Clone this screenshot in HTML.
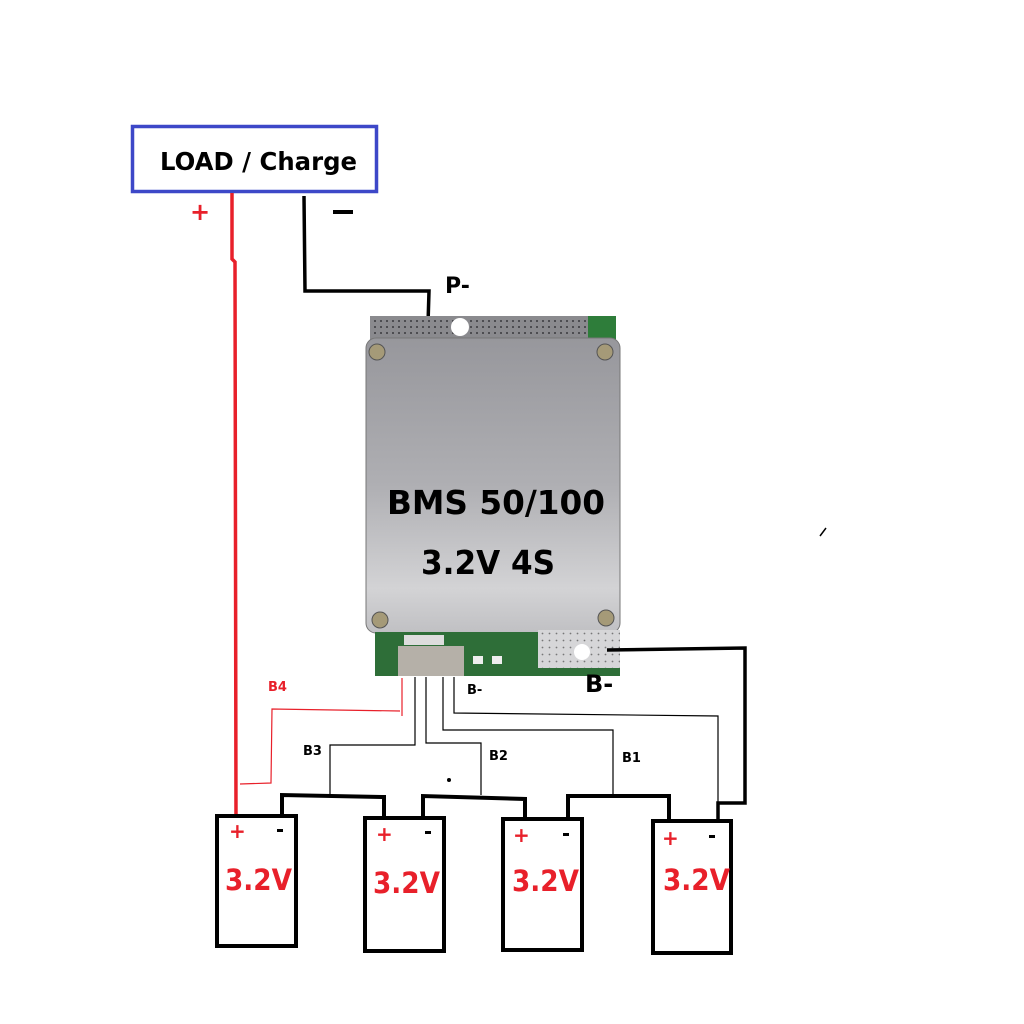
<!DOCTYPE html>
<html><head><meta charset="utf-8"><style>
html,body{margin:0;padding:0;background:#fff;}
svg{display:block;}
text{font-family:"DejaVu Sans","Liberation Sans",sans-serif;font-weight:bold;}
</style></head><body>
<svg width="1024" height="1024" viewBox="0 0 1024 1024" xmlns="http://www.w3.org/2000/svg">
<defs>
<linearGradient id="plate" x1="0" y1="0" x2="0" y2="1">
<stop offset="0" stop-color="#97979c"/>
<stop offset="0.5" stop-color="#afafb3"/>
<stop offset="0.85" stop-color="#d3d3d5"/>
<stop offset="1" stop-color="#c0c0c3"/>
</linearGradient>
<pattern id="dots" width="6" height="6" patternUnits="userSpaceOnUse">
<rect width="6" height="6" fill="#8a8a8e"/><circle cx="3" cy="3" r="1" fill="#3a3a3e"/>
</pattern>
<pattern id="dots2" width="7" height="7" patternUnits="userSpaceOnUse">
<rect width="7" height="7" fill="#d6d6d8"/><circle cx="3.5" cy="3.5" r="0.9" fill="#777"/>
</pattern>
</defs>
<rect width="1024" height="1024" fill="#fff"/>

<rect x="132.5" y="126.5" width="244" height="65" fill="#fff" stroke="#3d48c8" stroke-width="3.5"/>
<text x="160" y="170" font-size="25" fill="#000" textLength="197" lengthAdjust="spacingAndGlyphs">LOAD / Charge</text>
<text x="190" y="220" font-size="24" fill="#e8202a" font-weight="normal">+</text>
<rect x="333" y="210" width="20" height="4" fill="#000"/>

<polyline points="232,193 232,259 235,262 236,820" fill="none" stroke="#e8202a" stroke-width="3.5"/>
<polyline points="304,196 305,291 429,291 428,324" fill="none" stroke="#000" stroke-width="3.5"/>
<text x="445" y="293" font-size="22" fill="#000">P-</text>

<rect x="370" y="316" width="246" height="24" fill="url(#dots)"/>
<rect x="588" y="316" width="28" height="24" fill="#2e7d3a"/>
<circle cx="460" cy="327" r="9" fill="#fff"/>
<rect x="366" y="338" width="254" height="295" rx="10" fill="url(#plate)" stroke="#777" stroke-width="1"/>
<circle cx="377" cy="352" r="8" fill="#a59a78" stroke="#555"/>
<circle cx="605" cy="352" r="8" fill="#a59a78" stroke="#555"/>
<circle cx="380" cy="620" r="8" fill="#a59a78" stroke="#555"/>
<circle cx="606" cy="618" r="8" fill="#a59a78" stroke="#555"/>
<text x="387" y="514" font-size="33" fill="#000" textLength="218" lengthAdjust="spacingAndGlyphs">BMS 50/100</text>
<text x="421" y="574" font-size="33" fill="#000" textLength="134" lengthAdjust="spacingAndGlyphs">3.2V 4S</text>

<rect x="375" y="632" width="245" height="44" fill="#2e6e38"/>
<rect x="538" y="630" width="82" height="38" fill="url(#dots2)"/>
<circle cx="582" cy="652" r="8" fill="#fff"/>
<rect x="398" y="646" width="66" height="30" fill="#b5b0a8"/>
<rect x="404" y="635" width="40" height="10" fill="#ddd"/>
<rect x="473" y="656" width="10" height="8" fill="#eee"/>
<rect x="492" y="656" width="10" height="8" fill="#eee"/>

<polyline points="607,650 745,648 745,803 718,803 718,822" fill="none" stroke="#000" stroke-width="3.5"/>
<text x="585" y="692" font-size="24" fill="#000">B-</text>

<polyline points="402,678 402,716" fill="none" stroke="#e8202a" stroke-width="1.2"/>
<polyline points="400,711 272,709 271,783 240,784" fill="none" stroke="#e8202a" stroke-width="1.2"/>
<polyline points="415,677 415,745 330,745 330,795" fill="none" stroke="#000" stroke-width="1.2"/>
<polyline points="426,677 426,743 481,743 481,795" fill="none" stroke="#000" stroke-width="1.2"/>
<polyline points="443,677 443,730 613,730 613,795" fill="none" stroke="#000" stroke-width="1.2"/>
<polyline points="454,677 454,713 718,716 718,803" fill="none" stroke="#000" stroke-width="1.2"/>
<circle cx="449" cy="780" r="2" fill="#000"/>
<text x="467" y="694" font-size="13" fill="#000">B-</text>
<text x="268" y="691" font-size="13" fill="#e8202a">B4</text>
<text x="303" y="755" font-size="13" fill="#000">B3</text>
<text x="489" y="760" font-size="13" fill="#000">B2</text>
<text x="622" y="762" font-size="13" fill="#000">B1</text>

<g fill="none" stroke="#000" stroke-width="4">
<polyline points="282,816 282,795 384,797 384,818"/>
<polyline points="423,818 423,796 525,799 525,820"/>
<polyline points="568,820 568,796 669,796 669,822"/>
</g>
<line x1="820" y1="536" x2="826" y2="528" stroke="#000" stroke-width="1.5"/>

<g fill="#fff" stroke="#000" stroke-width="4">
<rect x="217" y="816" width="79" height="130"/>
<rect x="365" y="818" width="79" height="133"/>
<rect x="503" y="819" width="79" height="131"/>
<rect x="653" y="821" width="78" height="132"/>
</g>
<g font-size="20" fill="#e8202a" font-weight="normal">
<text x="229" y="838">+</text><text x="376" y="841">+</text><text x="513" y="842">+</text><text x="662" y="845">+</text>
</g>
<g fill="#000">
<rect x="277" y="829" width="6" height="3"/><rect x="425" y="831" width="6" height="3"/>
<rect x="563" y="833" width="6" height="3"/><rect x="709" y="835" width="6" height="3"/>
</g>
<g font-size="29" fill="#e8202a">
<text x="225" y="890" textLength="67" lengthAdjust="spacingAndGlyphs">3.2V</text>
<text x="373" y="893" textLength="67" lengthAdjust="spacingAndGlyphs">3.2V</text>
<text x="512" y="891" textLength="67" lengthAdjust="spacingAndGlyphs">3.2V</text>
<text x="663" y="890" textLength="67" lengthAdjust="spacingAndGlyphs">3.2V</text>
</g>
</svg>
</body></html>
